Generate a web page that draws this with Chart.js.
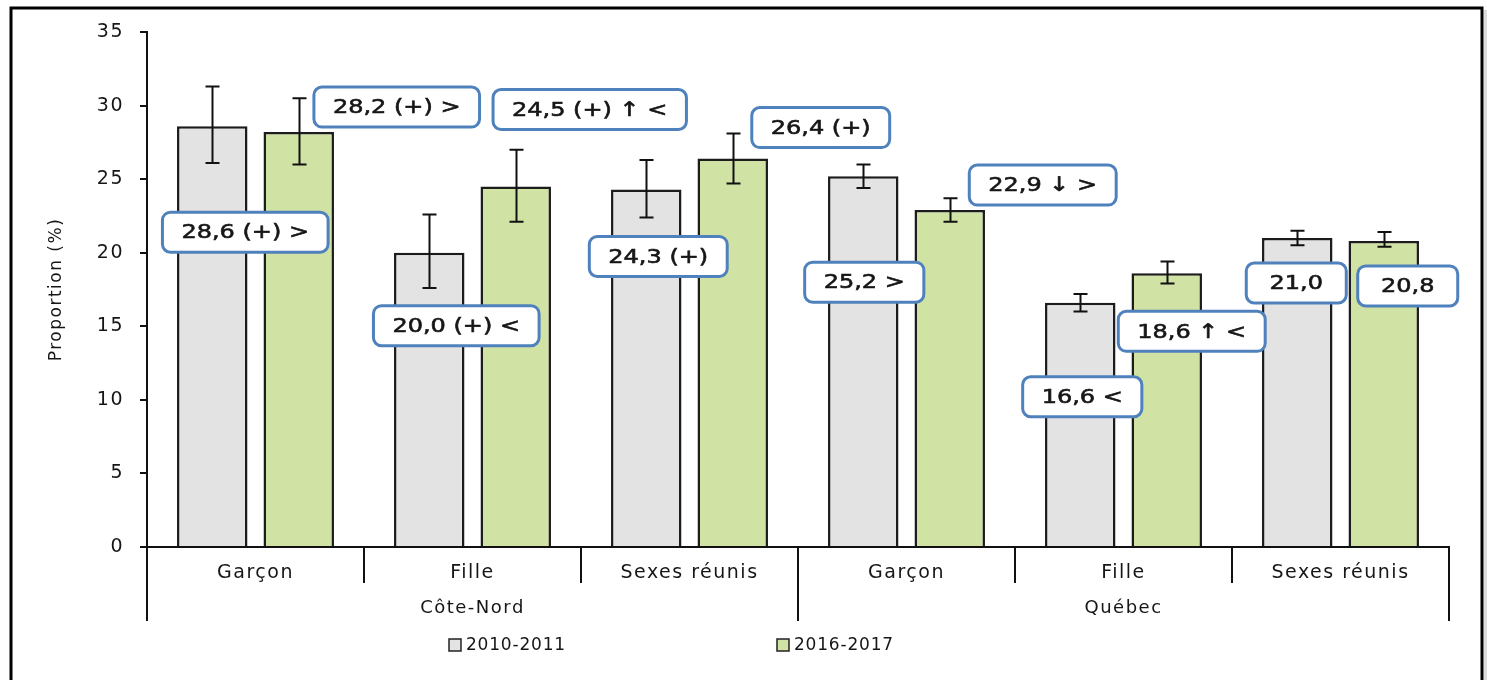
<!DOCTYPE html>
<html>
<head>
<meta charset="utf-8">
<script src="https://cdn.jsdelivr.net/npm/chart.js@4/dist/chart.umd.min.js"></script>
<style>
  html, body { margin: 0; padding: 0; background: #fff; overflow: hidden; }
  #wrap { width: 1487px; height: 680px; }
  canvas { display: block; }
</style>
</head>
<body>
<div id="wrap"><canvas id="chart" width="1487" height="680"></canvas></div>
<script>
// Regions and sub-groups on the horizontal axis
const regions = ['Côte-Nord', 'Québec'];
const categories = ['Garçon', 'Fille', 'Sexes réunis', 'Garçon', 'Fille', 'Sexes réunis'];
const periods = ['2010-2011', '2016-2017'];

// Proportions (%)
const values2010 = [28.6, 20.0, 24.3, 25.2, 16.6, 21.0];
const values2016 = [28.2, 24.5, 26.4, 22.9, 18.6, 20.8];

// 95% confidence intervals
const ciLow2010  = [26.1, 17.6, 22.4, 24.4, 16.0, 20.5];
const ciHigh2010 = [31.3, 22.6, 26.3, 26.0, 17.2, 21.5];
const ciLow2016  = [26.0, 22.1, 24.7, 22.1, 17.9, 20.4];
const ciHigh2016 = [30.5, 27.0, 28.1, 23.7, 19.4, 21.4];

// Significance marks appended after each value
const notes2010 = [' (+) >', ' (+) <', ' (+)', ' >', ' <', ''];
const notes2016 = [' (+) >', ' (+) ↑ <', ' (+)', ' ↓ >', ' ↑ <', ''];

// Y axis ticks
const yMin = 0, yMax = 35, yStep = 5;

// Placement of each value callout, relative to the top centre of its bar (px)
const calloutShift2010 = [[33, 106], [27, 73], [12, 67], [1, 106], [2, 94], [-1, 45]];
const calloutShift2016 = [[98, -25], [74, -77], [88, -31], [93, -25], [25, 58], [24, 45]];

const FONT = '"DejaVu Sans", sans-serif';
const INK = '#161616';

const ciLow = [ciLow2010, ciLow2016];
const ciHigh = [ciHigh2010, ciHigh2016];
const notes = [notes2010, notes2016];
const shifts = [calloutShift2010, calloutShift2016];

function fmt(v) { return v.toFixed(1).replace('.', ','); }

// Background, letter spacing and outer frame
const framePlugin = {
  id: 'frame',
  beforeDraw(chart) {
    const ctx = chart.ctx;
    ctx.save();
    ctx.fillStyle = '#ffffff';
    ctx.fillRect(0, 0, chart.width, chart.height);
    ctx.restore();
    ctx.letterSpacing = '1.5px';
  },
  afterDraw(chart) {
    const ctx = chart.ctx;
    ctx.save();
    ctx.strokeStyle = '#dcdcdc';
    ctx.lineWidth = 3;
    ctx.beginPath(); ctx.moveTo(1485.5, 10); ctx.lineTo(1485.5, 700); ctx.stroke();
    ctx.strokeStyle = '#000';
    ctx.lineWidth = 3;
    ctx.strokeRect(11, 8, 1471, 720);
    ctx.restore();
  }
};

// Confidence interval whiskers and value callouts
const annotatePlugin = {
  id: 'annotate',
  afterDatasetsDraw(chart) {
    const ctx = chart.ctx;
    const y = chart.scales.y;
    ctx.save();
    ctx.letterSpacing = '0px';
    // whiskers
    ctx.strokeStyle = '#111';
    ctx.lineWidth = 2;
    chart.data.datasets.forEach((ds, d) => {
      const meta = chart.getDatasetMeta(d);
      meta.data.forEach((bar, j) => {
        const x = Math.round(bar.x) + 0.5;
        const yl = y.getPixelForValue(ciLow[d][j]);
        const yh = y.getPixelForValue(ciHigh[d][j]);
        ctx.beginPath();
        ctx.moveTo(x, yl); ctx.lineTo(x, yh);
        ctx.moveTo(x - 7, yl); ctx.lineTo(x + 7, yl);
        ctx.moveTo(x - 7, yh); ctx.lineTo(x + 7, yh);
        ctx.stroke();
      });
    });
    // callouts
    chart.data.datasets.forEach((ds, d) => {
      const meta = chart.getDatasetMeta(d);
      meta.data.forEach((bar, j) => {
        const text = fmt(ds.data[j]) + notes[d][j];
        const cx = bar.x + shifts[d][j][0];
        const cy = y.getPixelForValue(ds.data[j]) + shifts[d][j][1];
        ctx.font = '20px ' + FONT;
        const sx = 1.2;
        const tw = ctx.measureText(text).width * sx;
        const w = Math.max(tw + 38, 100), h = 40;
        ctx.beginPath();
        ctx.roundRect(cx - w / 2, cy - h / 2, w, h, 8);
        ctx.fillStyle = '#ffffff';
        ctx.fill();
        ctx.lineWidth = 3;
        ctx.strokeStyle = '#4f81bd';
        ctx.stroke();
        ctx.save();
        ctx.translate(cx, cy);
        ctx.scale(sx, 1);
        ctx.fillStyle = INK;
        ctx.strokeStyle = INK;
        ctx.lineWidth = 0.6;
        ctx.textAlign = 'center';
        ctx.textBaseline = 'middle';
        ctx.fillText(text, 0, 1);
        ctx.strokeText(text, 0, 1);
        ctx.restore();
      });
    });
    ctx.restore();
  }
};

// Legend under the axis titles
const legendPlugin = {
  id: 'periodLegend',
  afterDraw(chart) {
    const ctx = chart.ctx;
    const area = chart.chartArea;
    ctx.save();
    ctx.letterSpacing = '0.8px';
    ctx.font = '17px ' + FONT;
    ctx.textBaseline = 'middle';
    ctx.textAlign = 'left';
    const cy = 645;
    chart.data.datasets.forEach((ds, d) => {
      const x0 = area.left + 302 + d * 328;
      ctx.fillStyle = ds.backgroundColor;
      ctx.fillRect(x0, cy - 6, 12, 12);
      ctx.strokeStyle = '#222';
      ctx.lineWidth = 1.5;
      ctx.strokeRect(x0, cy - 6, 12, 12);
      ctx.fillStyle = INK;
      ctx.fillText(ds.label, x0 + 17, cy + 1);
    });
    ctx.restore();
  }
};

new Chart(document.getElementById('chart'), {
  type: 'bar',
  data: {
    labels: categories,
    datasets: [
      {
        label: periods[0],
        data: values2010,
        backgroundColor: '#e3e3e3',
        borderColor: '#1c1c1c',
        borderWidth: 2.5
      },
      {
        label: periods[1],
        data: values2016,
        backgroundColor: '#d1e2a5',
        borderColor: '#1c1c1c',
        borderWidth: 2.5
      }
    ]
  },
  options: {
    responsive: false,
    devicePixelRatio: 1,
    animation: false,
    categoryPercentage: 0.797,
    barPercentage: 0.815,
    layout: { padding: { top: 32, right: 38, bottom: 57, left: 0 } },
    plugins: {
      legend: { display: false },
      tooltip: { enabled: false }
    },
    scales: {
      x: {
        weight: 0,
        offset: true,
        grid: {
          offset: true,
          drawOnChartArea: false,
          drawTicks: true,
          tickLength: 36,
          color: '#111',
          lineWidth: 2
        },
        border: { display: true, color: '#111', width: 2 },
        ticks: {
          color: INK,
          font: { family: FONT, size: 19 },
          padding: -21.5,
          maxRotation: 0,
          autoSkip: false
        },
        afterFit(scale) { scale.height = 36; }
      },
      x2: {
        type: 'category',
        labels: regions,
        position: 'bottom',
        weight: 1,
        offset: true,
        grid: {
          offset: true,
          drawOnChartArea: false,
          drawTicks: true,
          tickLength: 38,
          color: '#111',
          lineWidth: 2
        },
        border: { display: false },
        ticks: {
          color: INK,
          font: { family: FONT, size: 18 },
          padding: -23,
          maxRotation: 0,
          autoSkip: false
        },
        afterFit(scale) { scale.height = 40; }
      },
      y: {
        min: yMin,
        max: yMax,
        grid: {
          drawOnChartArea: false,
          drawTicks: true,
          tickLength: 7,
          color: '#111',
          lineWidth: 2
        },
        border: { display: true, color: '#111', width: 2 },
        ticks: {
          stepSize: yStep,
          color: INK,
          font: { family: FONT, size: 19 },
          padding: 16
        },
        title: {
          display: true,
          text: 'Proportion (%)',
          color: INK,
          font: { family: FONT, size: 17 },
          padding: { top: 46, bottom: 0 }
        },
        afterFit(scale) { scale.width = 147; }
      }
    }
  },
  plugins: [framePlugin, annotatePlugin, legendPlugin]
});
</script>
</body>
</html>
